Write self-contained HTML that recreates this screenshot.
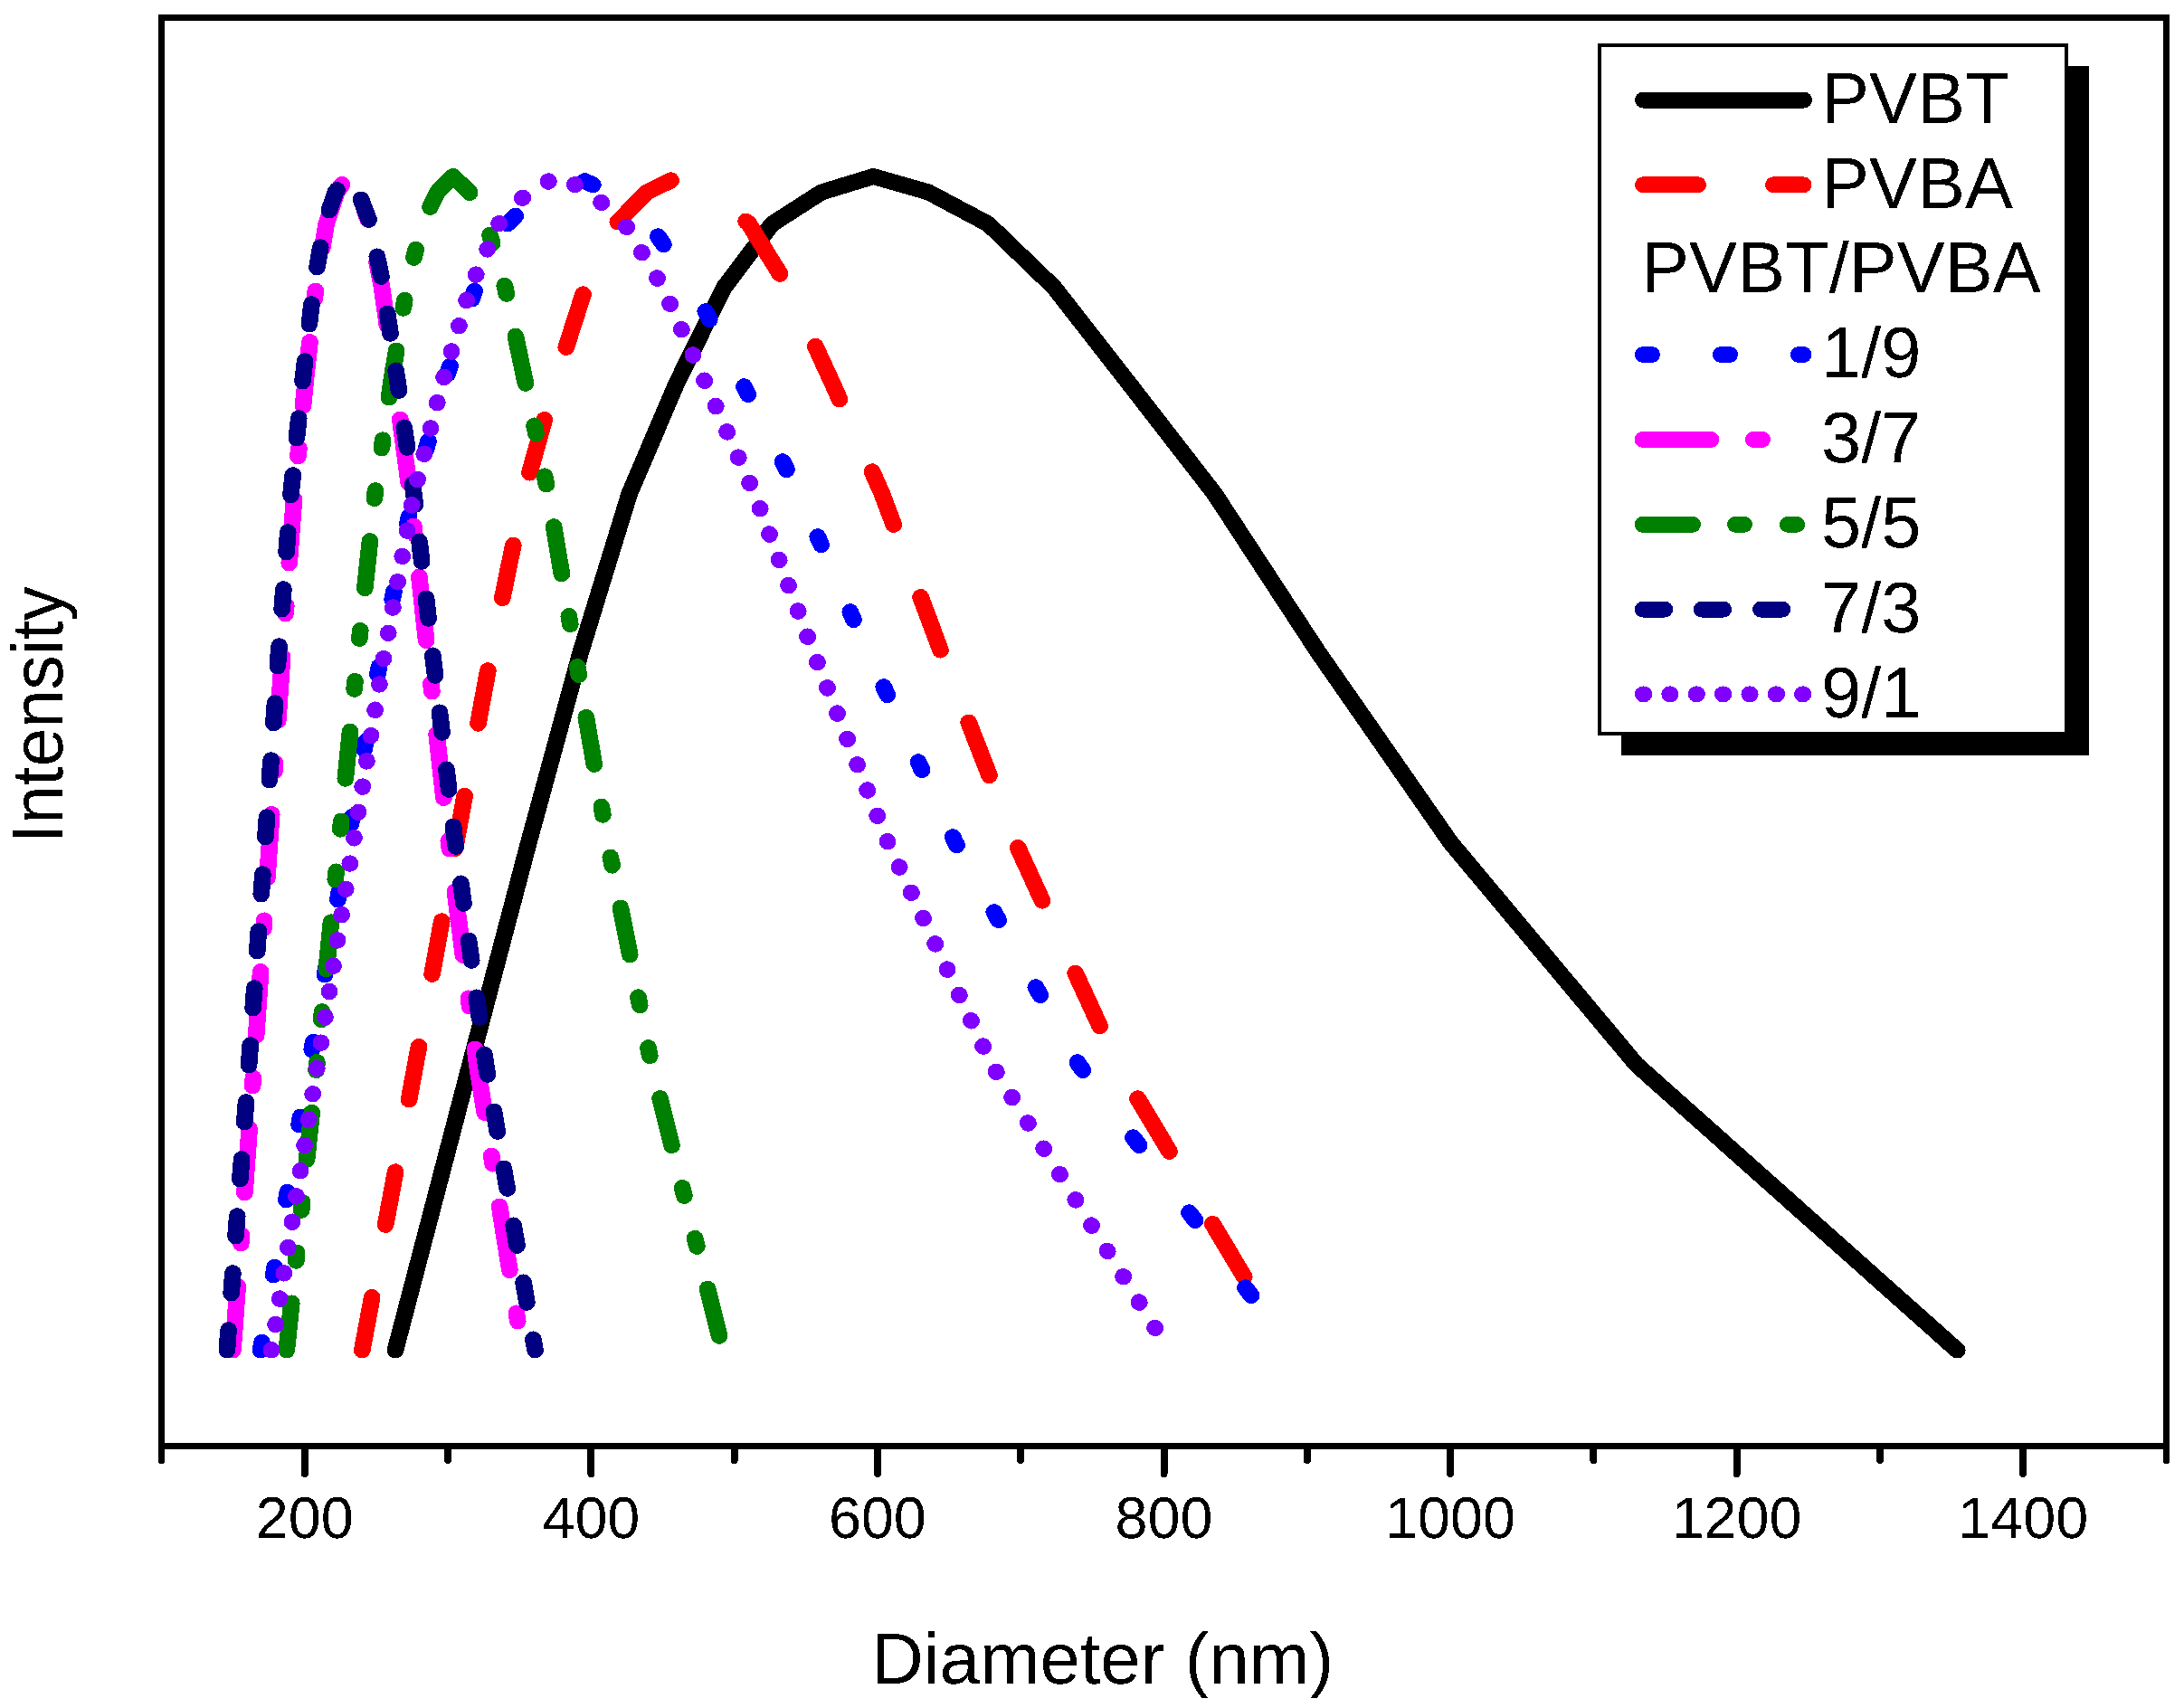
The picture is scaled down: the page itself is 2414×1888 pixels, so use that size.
<!DOCTYPE html>
<html><head><meta charset="utf-8"><title>DLS size distribution</title>
<style>html,body{margin:0;padding:0;background:#fff}svg{display:block}</style></head>
<body>
<svg width="2414" height="1888" viewBox="0 0 2414 1888" shape-rendering="crispEdges" text-rendering="geometricPrecision">
<rect width="2414" height="1888" fill="#fff"/>
<defs><filter id="hard" x="-5%" y="-5%" width="110%" height="110%" color-interpolation-filters="sRGB"><feComponentTransfer><feFuncA type="discrete" tableValues="0 1"/></feComponentTransfer></filter></defs>
<g transform="scale(1.035,1)" fill="none" stroke-width="18.0" stroke-linecap="round" stroke-linejoin="round">
<path stroke="#000000" d="M422.2 1492.5 L502.0 1176.9 L564.6 931.4 L620.1 721.0 L672.2 545.7 L722.9 422.9 L773.3 317.7 L824.5 247.6 L877.3 212.5 L932.7 195.0 L991.6 212.5 L1055.4 247.6 L1125.7 317.7 L1205.0 422.9 L1297.0 545.7 L1407.8 721.0 L1549.2 931.4 L1747.7 1176.9 L2090.2 1492.5"/>
<path stroke="#ff0000" d="M386.7 1492.5 L397.3 1434.0 M411.7 1353.9 L422.3 1295.4 M436.8 1215.4 L443.7 1176.9 L447.3 1156.9 M461.4 1076.8 L471.7 1018.3 M485.9 938.2 L487.1 931.4 L496.3 879.7 M510.6 799.7 L521.1 741.2 M536.5 661.1 L548.1 602.6 M565.6 522.5 L581.4 464.0 M604.6 383.9 L622.7 325.4 M659.7 245.4 L690.8 212.5 L716.5 199.4 M796.6 244.6 L799.9 247.6 L832.9 302.8 M870.8 382.9 L888.6 422.9 L896.6 441.4 M931.4 521.4 L941.9 545.7 L954.3 579.9 M983.2 660.0 L1004.3 718.5 M1034.5 798.6 L1056.5 857.1 M1087.1 937.1 L1113.0 995.6 M1148.5 1075.7 L1174.5 1134.2 M1215.0 1214.3 L1248.8 1272.8 M1295.0 1352.9 L1328.7 1411.4"/>
<path stroke="#0000ff" d="M278.3 1492.5 L279.7 1483.7 M292.0 1409.5 L293.4 1400.7 M305.7 1326.5 L307.1 1317.7 M319.4 1243.5 L320.8 1234.7 M333.1 1160.5 L334.5 1151.7 M346.9 1077.5 L348.4 1068.7 M360.7 994.5 L362.2 985.7 M374.7 911.5 L376.2 902.7 M389.0 828.5 L390.5 819.7 M403.3 745.5 L404.9 736.7 M419.0 662.5 L420.7 653.7 M435.1 579.5 L436.8 570.7 M455.0 496.5 L457.4 487.7 M477.9 413.5 L480.7 404.7 M504.0 330.5 L506.8 321.7 M541.7 247.5 L550.5 238.7 M624.4 200.2 L633.2 204.2 M702.8 261.3 L708.6 270.1 M753.4 344.3 L757.7 353.1 M794.7 427.3 L799.0 436.1 M835.8 510.3 L840.1 519.1 M873.2 593.3 L876.9 602.1 M908.0 676.3 L911.6 685.1 M943.7 759.3 L947.6 768.1 M980.7 842.3 L984.6 851.1 M1017.6 925.3 L1020.3 931.4 L1021.8 934.1 M1061.6 1008.3 L1066.3 1017.1 M1106.1 1091.3 L1110.9 1100.1 M1150.7 1174.3 L1152.1 1176.9 L1156.5 1183.1 M1210.1 1257.3 L1216.5 1266.1 M1270.0 1340.3 L1276.4 1349.1 M1329.9 1423.3 L1336.3 1432.1"/>
<path stroke="#ff00ff" d="M248.8 1492.5 L253.8 1422.0 M257.3 1374.5 L257.9 1365.5 M261.3 1318.5 L266.3 1248.0 M269.7 1200.5 L270.4 1191.5 M273.6 1144.5 L278.4 1074.0 M281.6 1026.5 L282.2 1017.5 M285.4 970.5 L288.0 931.4 L290.1 900.0 M293.2 852.5 L293.8 843.5 M296.9 796.5 L301.6 726.0 M304.9 678.5 L305.6 669.5 M308.9 622.5 L314.0 552.0 M318.3 504.5 L319.2 495.5 M323.7 448.5 L326.1 422.9 L330.9 378.0 M336.0 330.5 L337.0 321.5 M344.2 274.5 L348.5 247.6 L359.6 212.5 L365.0 204.0 M389.8 233.5 L392.9 242.5 M402.5 289.5 L407.8 317.7 L413.5 360.0 M419.9 407.5 L421.2 416.5 M427.3 463.5 L436.5 534.0 M441.8 581.5 L442.8 590.5 M447.7 637.5 L455.2 708.0 M460.3 755.5 L461.3 764.5 M466.3 811.5 L473.9 882.0 M479.0 929.5 L479.2 931.4 L480.1 938.5 M485.9 985.5 L494.6 1056.0 M500.4 1103.5 L501.5 1112.5 M507.3 1159.5 L509.4 1176.9 L517.6 1230.0 M524.9 1277.5 L526.2 1286.5 M533.5 1333.5 L544.3 1404.0 M551.6 1451.5 L552.9 1460.5"/>
<path stroke="#008000" d="M306.1 1492.5 L311.4 1440.5 M316.2 1393.7 L317.1 1384.7 M321.9 1337.8 L322.8 1328.8 M327.6 1281.9 L333.0 1229.9 M337.7 1183.0 L338.4 1176.9 L338.6 1174.0 M343.2 1127.2 L344.0 1118.2 M348.6 1071.3 L353.6 1019.3 M358.2 972.5 L359.0 963.5 M363.6 916.6 L364.4 907.6 M368.9 860.7 L373.9 808.7 M378.4 761.9 L379.2 752.9 M383.9 706.0 L384.8 697.0 M389.7 650.1 L395.1 598.1 M399.9 551.2 L400.5 545.7 L401.0 542.2 M407.6 495.4 L408.8 486.4 M415.4 439.5 L417.7 422.9 L423.3 387.5 M430.7 340.7 L432.1 331.7 M442.0 284.8 L444.1 275.8 M459.4 228.9 L467.1 212.5 L483.9 195.0 L501.3 212.5 L501.6 213.1 M523.2 259.9 L525.8 268.9 M538.9 315.8 L539.5 317.7 L540.9 324.8 M550.6 371.7 L561.1 422.9 L561.3 423.7 M570.6 470.5 L572.4 479.5 M581.7 526.4 L583.5 535.4 M591.5 582.3 L599.9 634.3 M607.5 681.1 L609.0 690.1 M616.6 737.0 L618.1 746.0 M625.9 792.9 L634.6 844.9 M642.4 891.7 L643.8 900.7 M652.0 947.6 L653.8 956.6 M662.7 1003.5 L672.7 1055.5 M681.6 1102.3 L683.3 1111.3 M692.3 1158.2 L694.0 1167.2 M704.9 1214.1 L717.4 1266.1 M728.7 1312.9 L730.8 1321.9 M742.1 1368.8 L744.3 1377.8 M755.6 1424.7 L768.2 1476.7"/>
<path stroke="#000080" d="M242.4 1492.5 L244.0 1470.2 M247.0 1429.5 L248.7 1407.2 M251.7 1366.5 L253.4 1344.2 M256.4 1303.5 L258.1 1281.2 M261.1 1240.5 L262.8 1218.2 M265.8 1177.5 L265.8 1176.9 L267.4 1155.2 M270.2 1114.5 L271.8 1092.2 M274.6 1051.5 L276.2 1029.2 M279.0 988.5 L280.6 966.2 M283.5 925.5 L285.0 903.2 M287.8 862.5 L289.4 840.2 M292.2 799.5 L293.7 777.2 M296.5 736.5 L297.6 721.0 L298.1 714.2 M301.1 673.5 L302.8 651.2 M305.9 610.5 L307.5 588.2 M310.6 547.5 L310.7 545.7 L312.8 525.2 M316.8 484.5 L319.1 462.2 M323.2 421.5 L325.7 399.2 M330.3 358.5 L332.8 336.2 M338.6 295.5 L342.3 273.2 M351.6 232.5 L358.3 212.5 L359.9 210.2 M385.5 220.5 L393.8 242.8 M402.7 283.5 L407.2 305.8 M413.7 346.5 L416.9 368.8 M422.8 409.5 L424.8 422.9 L426.0 431.8 M431.7 472.5 L434.8 494.8 M440.5 535.5 L441.9 545.7 L443.3 557.8 M447.9 598.5 L450.4 620.8 M455.1 661.5 L457.6 683.8 M462.2 724.5 L464.8 746.8 M469.5 787.5 L472.1 809.8 M476.8 850.5 L479.4 872.8 M484.1 913.5 L486.2 931.4 L486.8 935.8 M492.2 976.5 L495.2 998.8 M500.6 1039.5 L503.6 1061.8 M509.0 1102.5 L511.9 1124.8 M517.3 1165.5 L518.9 1176.9 L520.7 1187.8 M527.5 1228.5 L531.2 1250.8 M538.0 1291.5 L541.7 1313.8 M548.5 1354.5 L552.2 1376.8 M559.0 1417.5 L562.7 1439.8 M569.5 1480.5 L571.5 1492.5"/>
<path stroke="#8000ff" d="M289.9 1492.5 L290.0 1492.0 M294.3 1464.2 L294.4 1463.7 M298.7 1435.9 L298.8 1435.4 M303.2 1407.6 L303.2 1407.1 M307.6 1379.3 L307.6 1378.8 M312.0 1351.0 L312.1 1350.5 M316.4 1322.7 L316.5 1322.2 M320.8 1294.4 L320.9 1293.9 M325.2 1266.1 L325.3 1265.6 M329.6 1237.8 L329.7 1237.3 M334.0 1209.5 L334.1 1209.0 M338.5 1181.2 L338.5 1180.7 M342.9 1152.9 L342.9 1152.4 M347.3 1124.6 L347.3 1124.1 M351.7 1096.3 L351.7 1095.8 M356.1 1068.0 L356.1 1067.5 M360.5 1039.7 L360.5 1039.2 M364.9 1011.4 L364.9 1010.9 M369.3 983.1 L369.3 982.6 M373.7 954.8 L373.7 954.3 M378.1 926.5 L378.2 926.0 M382.6 898.2 L382.7 897.7 M387.1 869.9 L387.2 869.4 M391.6 841.6 L391.7 841.1 M396.1 813.3 L396.2 812.8 M400.6 785.0 L400.7 784.5 M405.2 756.7 L405.2 756.2 M409.7 728.4 L409.7 727.9 M414.6 700.1 L414.7 699.6 M419.6 671.8 L419.7 671.3 M424.7 643.5 L424.8 643.0 M429.7 615.2 L429.8 614.7 M434.8 586.9 L434.9 586.4 M439.8 558.6 L439.9 558.1 M445.9 530.3 L446.0 529.8 M452.9 502.0 L453.0 501.5 M459.9 473.7 L460.0 473.2 M466.8 445.4 L466.9 444.9 M474.0 417.1 L474.2 416.6 M482.1 388.8 L482.2 388.3 M490.1 360.5 L490.3 360.0 M498.2 332.2 L498.3 331.7 M508.2 303.9 L508.5 303.4 M520.4 275.6 L520.7 275.1 M532.8 247.3 L533.2 246.8 M557.8 219.0 L558.3 218.5 M585.4 200.7 L585.9 200.4 M613.7 204.1 L614.2 204.3 M642.0 223.7 L642.5 224.1 M669.0 250.7 L669.3 251.2 M685.4 279.0 L685.7 279.5 M701.7 307.3 L702.0 307.8 M715.5 335.6 L715.7 336.1 M727.7 363.9 L727.9 364.4 M740.0 392.2 L740.2 392.7 M752.2 420.5 L752.4 421.0 M764.3 448.8 L764.5 449.3 M776.4 477.1 L776.6 477.6 M788.5 505.4 L788.7 505.9 M800.6 533.7 L800.8 534.2 M811.6 562.0 L811.8 562.5 M821.7 590.3 L821.9 590.8 M831.9 618.6 L832.1 619.1 M842.0 646.9 L842.2 647.4 M852.2 675.2 L852.4 675.7 M862.3 703.5 L862.5 704.0 M872.7 731.8 L872.9 732.3 M883.4 760.1 L883.6 760.6 M894.1 788.4 L894.3 788.9 M904.8 816.7 L905.0 817.2 M915.5 845.0 L915.7 845.5 M926.2 873.3 L926.4 873.8 M936.9 901.6 L937.1 902.1 M947.7 929.9 L947.9 930.4 M960.3 958.2 L960.6 958.7 M973.1 986.5 L973.3 987.0 M985.9 1014.8 L986.1 1015.3 M998.7 1043.1 L998.9 1043.6 M1011.5 1071.4 L1011.7 1071.9 M1024.3 1099.7 L1024.5 1100.2 M1037.0 1128.0 L1037.3 1128.5 M1049.8 1156.3 L1050.1 1156.8 M1063.8 1184.6 L1064.1 1185.1 M1080.7 1212.9 L1081.0 1213.4 M1097.7 1241.2 L1098.0 1241.7 M1114.6 1269.5 L1114.9 1270.0 M1131.6 1297.8 L1131.9 1298.3 M1148.6 1326.1 L1148.9 1326.6 M1165.5 1354.4 L1165.8 1354.9 M1182.5 1382.7 L1182.8 1383.2 M1199.5 1411.0 L1199.8 1411.5 M1216.4 1439.3 L1216.7 1439.8 M1233.4 1467.6 L1233.7 1468.1"/>
</g>
<rect x="178.5" y="19.5" width="2216" height="1579" fill="none" stroke="#000" stroke-width="7"/>
<path d="M336.8 1602 V1629 M495.1 1602 V1614 M653.4 1602 V1629 M811.6 1602 V1614 M969.9 1602 V1629 M1128.2 1602 V1614 M1286.5 1602 V1629 M1444.8 1602 V1614 M1603.1 1602 V1629 M1761.4 1602 V1614 M1919.6 1602 V1629 M2077.9 1602 V1614 M2236.2 1602 V1629" stroke="#000" stroke-width="8" stroke-linecap="round" fill="none"/>
<path d="M178.5 1600 V1614.5 M2394.5 1600 V1614.5" stroke="#000" stroke-width="7" stroke-linecap="round" fill="none"/>
<g font-family="'Liberation Sans', sans-serif" font-size="64.7" text-anchor="middle" fill="#000" filter="url(#hard)">
<text x="336.8" y="1700">200</text>
<text x="653.4" y="1700">400</text>
<text x="969.9" y="1700">600</text>
<text x="1286.5" y="1700">800</text>
<text x="1603.1" y="1700">1000</text>
<text x="1919.6" y="1700">1200</text>
<text x="2236.2" y="1700">1400</text>
</g>
<g font-family="'Liberation Sans', sans-serif" fill="#000" filter="url(#hard)">
<text x="1218.5" y="1861" font-size="80" text-anchor="middle">Diameter (nm)</text>
<text transform="translate(69,790) rotate(-90) scale(0.953,1)" font-size="80" text-anchor="middle">Intensity</text>
</g>
<rect x="1792" y="73" width="517" height="762" fill="#000"/>
<rect x="1768" y="50" width="516" height="761" fill="#fff" stroke="#000" stroke-width="4"/>
<rect x="1807.0" y="101.5" width="196.0" height="18" rx="9.3" ry="9" fill="#000"/>
<rect x="1807.0" y="195.3" width="79.0" height="18" rx="9.3" ry="9" fill="#f00"/>
<rect x="1951.0" y="195.3" width="51.5" height="18" rx="9.3" ry="9" fill="#f00"/>
<rect x="1807.0" y="383.0" width="28.0" height="18" rx="9.3" ry="9" fill="#00f"/>
<rect x="1893.0" y="383.0" width="28.0" height="18" rx="9.3" ry="9" fill="#00f"/>
<rect x="1979.0" y="383.0" width="23.5" height="18" rx="9.3" ry="9" fill="#00f"/>
<rect x="1806.7" y="476.9" width="93.5" height="18" rx="9.3" ry="9" fill="#f0f"/>
<rect x="1928.9" y="476.9" width="28.1" height="18" rx="9.3" ry="9" fill="#f0f"/>
<rect x="1806.7" y="570.8" width="73.3" height="18" rx="9.3" ry="9" fill="#008000"/>
<rect x="1909.0" y="570.8" width="28.0" height="18" rx="9.3" ry="9" fill="#008000"/>
<rect x="1966.9" y="570.8" width="28.2" height="18" rx="9.3" ry="9" fill="#008000"/>
<rect x="1806.7" y="664.6" width="42.5" height="18" rx="9.3" ry="9" fill="#000080"/>
<rect x="1871.8" y="664.6" width="42.3" height="18" rx="9.3" ry="9" fill="#000080"/>
<rect x="1937.0" y="664.6" width="42.2" height="18" rx="9.3" ry="9" fill="#000080"/>
<rect x="1807.0" y="758.4" width="19.2" height="18" rx="9.3" ry="9" fill="#8000ff"/>
<rect x="1836.3" y="758.4" width="19.2" height="18" rx="9.3" ry="9" fill="#8000ff"/>
<rect x="1865.7" y="758.4" width="19.2" height="18" rx="9.3" ry="9" fill="#8000ff"/>
<rect x="1895.0" y="758.4" width="19.2" height="18" rx="9.3" ry="9" fill="#8000ff"/>
<rect x="1924.4" y="758.4" width="19.2" height="18" rx="9.3" ry="9" fill="#8000ff"/>
<rect x="1953.8" y="758.4" width="19.2" height="18" rx="9.3" ry="9" fill="#8000ff"/>
<rect x="1983.1" y="758.4" width="19.2" height="18" rx="9.3" ry="9" fill="#8000ff"/>
<g font-family="'Liberation Sans', sans-serif" font-size="79.5" fill="#000" filter="url(#hard)">
<text x="2013" y="135.7">PVBT</text>
<text x="2013" y="229.5">PVBA</text>
<text x="1814" y="323.4">PVBT/PVBA</text>
<text x="2013" y="417.2">1/9</text>
<text x="2013" y="511.1">3/7</text>
<text x="2013" y="605.0">5/5</text>
<text x="2013" y="698.8">7/3</text>
<text x="2013" y="792.6">9/1</text>
</g>
</svg>
</body></html>
